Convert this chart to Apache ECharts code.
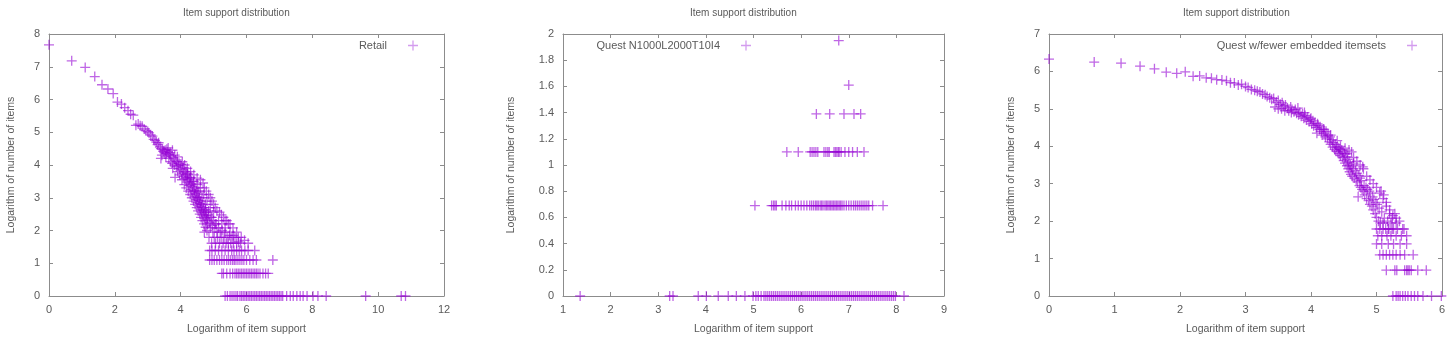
<!DOCTYPE html>
<html><head><meta charset="utf-8">
<script src="https://cdn.jsdelivr.net/npm/echarts@6/dist/echarts.min.js"></script>
<style>html,body{margin:0;padding:0;background:#fff}#c{width:1449px;height:342px}</style>
</head><body><div id="c"></div>
<script>
// ---- Data: [ln(item support), ln(number of items)] ----
const chartTitle = 'Item support distribution';
const xAxisName = 'Logarithm of item support';
const yAxisName = 'Logarithm of number of items';
const seriesNames = ['Retail', 'Quest N1000L2000T10I4', 'Quest w/fewer embedded itemsets'];

const retail = [
 [0,7.67],[0.69,7.18],[1.10,6.98],[1.39,6.70],[1.61,6.45],[1.79,6.32],[1.95,6.18],[2.08,5.92],[2.20,5.86],[2.30,5.75],
 [2.40,5.66],[2.48,5.55],[2.56,5.52],[2.64,5.21],[2.71,5.25],[2.77,5.20],[2.83,5.18],[2.89,5.10],[2.94,5.05],[3.00,5.02],
 [3.04,4.98],[3.09,4.92],[3.14,4.88],[3.18,4.78],[3.22,4.75],[3.26,4.70],[3.30,4.62],[3.33,4.68],[3.37,4.55],[3.40,4.50],
 [3.43,4.30],[3.47,4.42],[3.50,4.38],[3.53,4.45],[3.56,4.35],[3.58,4.48],[3.61,4.40],[3.64,4.20],[3.66,4.32],[3.69,4.10],
 [3.71,4.28],[3.74,4.05],[3.76,3.90],[3.78,4.22],[3.81,4.00],[3.83,3.62],[3.85,4.15],[3.87,3.95],[3.89,4.10],[3.91,3.80],
 [3.93,3.98],[3.95,4.05],[3.97,3.70],[3.99,3.88],[4.01,4.02],[4.03,3.75],[4.04,3.55],[4.06,3.85],[4.08,3.65],[4.09,3.92],
 [4.11,3.40],[4.13,3.70],[4.14,3.58],[4.16,3.80],[4.17,3.30],[4.19,3.62],[4.20,3.48],[4.22,3.72],[4.23,3.20],[4.25,3.55],
 [4.26,3.38],[4.28,3.60],[4.29,3.10],[4.30,3.45],[4.32,3.25],[4.33,3.50],[4.34,3.00],[4.36,3.35],[4.37,3.18],[4.38,3.42],
 [4.39,2.90],[4.41,3.22],[4.42,3.05],[4.43,3.30],[4.44,2.80],[4.45,3.12],[4.47,2.95],[4.48,3.20],[4.49,2.70],[4.50,3.02],
 [4.51,2.85],[4.52,3.15],[4.53,2.60],[4.55,2.92],[4.56,2.75],[4.57,3.00],[4.58,2.50],[4.59,2.83],[4.60,2.65],[4.61,2.90],
 [4.62,2.40],[4.63,2.72],[4.64,2.56],[4.65,2.80],[4.66,2.30],[4.68,2.62],[4.69,2.48],[4.70,2.70],[4.71,2.20],[4.72,1.95],
 [4.73,2.55],[4.74,2.38],[4.75,2.64],[4.76,2.10],[4.77,2.45],[4.78,2.30],[4.79,2.56],[4.80,2.00],[4.81,2.35],[4.82,2.20],
 [4.84,2.48],[4.86,1.79],[4.88,2.25],[4.90,2.08],[4.92,2.40],[4.94,1.61],[4.96,2.15],[4.98,1.95],[5.00,2.30],[5.02,1.79],
 [5.04,2.08],[5.06,1.61],[5.08,2.20],[5.10,1.95],[5.12,1.79],[5.15,2.08],[5.18,1.61],[5.20,1.95],[5.24,2.48],[5.23,1.79],
 [5.26,2.00],[5.29,1.61],[5.32,1.79],[5.35,2.30],[5.35,1.95],[5.38,1.61],[5.41,1.79],[5.45,2.20],[5.45,1.61],[5.48,1.85],
 [5.52,1.61],[5.56,1.79],[5.59,2.08],[5.60,1.61],[5.65,1.79],[5.70,1.95],[5.70,1.61],[5.76,1.65],[5.82,1.61],[5.84,1.79],
 [5.94,1.70],[6.05,1.61],
 [4.05,4.10],[4.12,4.00],[4.20,3.90],[4.30,3.80],[4.40,3.70],[4.50,3.60],[4.60,3.55],[4.68,3.45],[4.72,3.30],[4.78,3.20],
 [4.85,3.10],[4.90,3.00],[4.95,2.90],[5.00,2.80],[5.05,2.70],[5.10,2.60],[5.18,2.56],[5.30,2.40],[5.40,2.30],[5.50,2.20],
 [5.00,2.56],[4.90,2.70],[4.80,2.90],[4.70,3.10],[4.60,3.30],[4.50,3.40],[4.40,3.50],[4.30,3.62],[4.20,3.75],[4.55,3.20],
 [4.65,3.00],[4.75,2.80],[4.85,2.60],[4.95,2.40],[5.05,2.20],[5.15,2.30],[5.25,2.20],[5.35,2.08],[5.50,1.95],[5.60,1.85],
 [5.75,1.79],[3.40,4.20],[3.45,4.48],[3.55,4.25],[3.62,4.52],[3.68,4.38],[3.75,4.45],[3.82,4.30],[3.90,4.25],
 [4.88,1.39],[4.95,1.39],[5.05,1.39],[5.15,1.39],[5.25,1.39],[5.35,1.39],[5.45,1.39],[5.55,1.39],[5.62,1.39],[5.70,1.39],
 [5.78,1.39],[5.85,1.39],[5.95,1.39],[6.05,1.39],[6.25,1.39],
 [4.88,1.10],[4.95,1.10],[5.02,1.10],[5.10,1.10],[5.18,1.10],[5.25,1.10],[5.32,1.10],[5.40,1.10],[5.46,1.10],[5.52,1.10],
 [5.58,1.10],[5.63,1.10],[5.68,1.10],[5.74,1.10],[5.80,1.10],[5.86,1.10],[5.92,1.10],[6.00,1.10],[6.10,1.10],[6.20,1.10],
 [6.30,1.10],[6.80,1.10],
 [5.25,0.69],[5.30,0.69],[5.40,0.69],[5.50,0.69],[5.58,0.69],[5.65,0.69],[5.70,0.69],[5.75,0.69],[5.80,0.69],[5.85,0.69],
 [5.90,0.69],[5.95,0.69],[6.00,0.69],[6.05,0.69],[6.10,0.69],[6.15,0.69],[6.20,0.69],[6.25,0.69],[6.30,0.69],[6.35,0.69],
 [6.41,0.69],[6.50,0.69],[6.58,0.69],[6.66,0.69],
 [5.35,0],[5.42,0],[5.50,0],[5.56,0],[5.62,0],[5.68,0],[5.73,0],[5.80,0],[5.85,0],[5.90,0],[5.95,0],[6.00,0],[6.05,0],
 [6.10,0],[6.15,0],[6.20,0],[6.25,0],[6.30,0],[6.35,0],[6.40,0],[6.45,0],[6.50,0],[6.55,0],[6.60,0],[6.65,0],[6.70,0],
 [6.75,0],[6.80,0],[6.85,0],[6.90,0],[6.95,0],[7.00,0],[7.05,0],[7.10,0],[7.22,0],[7.33,0],[7.42,0],[7.53,0],[7.63,0],
 [7.72,0],[7.84,0],[8.02,0],[8.17,0],[8.42,0],[9.62,0],[10.70,0],[10.83,0]
];

const questN1000 = [
 [6.79,1.95],[7.00,1.61],
 [6.32,1.39],[6.60,1.39],[6.90,1.39],[7.11,1.39],[7.25,1.39],
 [5.70,1.10],[5.94,1.10],[6.19,1.10],[6.23,1.10],[6.27,1.10],[6.31,1.10],[6.35,1.10],[6.48,1.10],[6.52,1.10],[6.56,1.10],
 [6.59,1.10],[6.69,1.10],[6.72,1.10],[6.75,1.10],[6.78,1.10],[6.80,1.10],[6.84,1.10],[6.92,1.10],[7.00,1.10],[7.08,1.10],
 [7.18,1.10],[7.32,1.10],
 [5.03,0.69],[5.38,0.69],[5.42,0.69],[5.45,0.69],[5.48,0.69],[5.60,0.69],[5.68,0.69],[5.75,0.69],[5.80,0.69],[5.88,0.69],
 [5.94,0.69],[6.00,0.69],[6.06,0.69],[6.12,0.69],[6.18,0.69],[6.22,0.69],[6.26,0.69],[6.30,0.69],[6.33,0.69],[6.36,0.69],
 [6.40,0.69],[6.43,0.69],[6.46,0.69],[6.50,0.69],[6.53,0.69],[6.56,0.69],[6.59,0.69],[6.62,0.69],[6.65,0.69],[6.68,0.69],
 [6.71,0.69],[6.74,0.69],[6.77,0.69],[6.80,0.69],[6.83,0.69],[6.86,0.69],[6.90,0.69],[6.95,0.69],[7.00,0.69],[7.05,0.69],
 [7.10,0.69],[7.14,0.69],[7.18,0.69],[7.22,0.69],[7.26,0.69],[7.30,0.69],[7.34,0.69],[7.38,0.69],[7.42,0.69],[7.50,0.69],
 [7.72,0.69],
 [1.36,0],[3.24,0],[3.31,0],[3.84,0],[4.01,0],[4.26,0],[4.47,0],[4.64,0],[4.82,0],[4.99,0],[5.05,0],[5.10,0],[5.16,0],
 [5.22,0],[5.26,0],[5.30,0],[5.34,0],[5.38,0],[5.42,0],[5.46,0],[5.50,0],[5.54,0],[5.58,0],[5.62,0],[5.66,0],[5.70,0],
 [5.74,0],[5.78,0],[5.82,0],[5.86,0],[5.90,0],[5.94,0],[5.98,0],[6.02,0],[6.06,0],[6.10,0],[6.14,0],[6.18,0],[6.22,0],
 [6.26,0],[6.30,0],[6.34,0],[6.38,0],[6.42,0],[6.46,0],[6.50,0],[6.54,0],[6.58,0],[6.62,0],[6.66,0],[6.70,0],[6.74,0],
 [6.78,0],[6.82,0],[6.86,0],[6.90,0],[6.94,0],[6.98,0],[7.02,0],[7.06,0],[7.10,0],[7.14,0],[7.18,0],[7.22,0],[7.26,0],
 [7.30,0],[7.34,0],[7.38,0],[7.42,0],[7.46,0],[7.50,0],[7.54,0],[7.58,0],[7.62,0],[7.66,0],[7.70,0],[7.74,0],[7.78,0],
 [7.82,0],[7.86,0],[7.90,0],[7.94,0],[7.98,0],[8.16,0]
];

const questFewer = [
 [0,6.33],[0.69,6.25],[1.10,6.22],[1.39,6.14],[1.61,6.07],[1.79,5.98],[1.95,5.95],[2.08,5.99],[2.20,5.87],[2.30,5.88],
 [2.40,5.83],[2.48,5.82],[2.56,5.78],[2.64,5.77],[2.71,5.75],[2.77,5.70],[2.83,5.69],[2.89,5.64],[2.94,5.66],[3.00,5.60],
 [3.04,5.57],[3.09,5.52],[3.14,5.50],[3.18,5.47],[3.22,5.45],[3.26,5.40],[3.30,5.38],[3.33,5.33],[3.37,5.30],[3.40,5.26],
 [3.43,5.28],[3.47,5.18],[3.50,5.22],[3.53,5.12],[3.56,5.16],[3.58,5.08],[3.61,5.10],[3.64,5.02],[3.66,4.95],[3.69,5.05],
 [3.71,4.98],[3.74,4.92],[3.76,4.98],[3.78,4.88],[3.81,4.84],[3.83,4.90],[3.85,4.80],[3.87,4.86],[3.89,4.75],[3.91,4.82],
 [3.93,4.70],[3.95,4.78],[3.97,4.66],[3.99,4.72],[4.01,4.60],[4.03,4.68],[4.04,4.55],[4.06,4.62],[4.08,4.50],[4.09,4.35],
 [4.11,4.56],[4.13,4.45],[4.14,4.52],[4.16,4.40],[4.17,4.30],[4.19,4.46],[4.20,4.35],[4.22,4.25],[4.23,4.40],[4.25,4.20],
 [4.26,4.30],[4.28,4.12],[4.29,4.25],[4.30,4.05],[4.32,4.18],[4.33,3.98],[4.34,4.10],[4.36,3.92],[4.37,4.05],[4.38,3.88],
 [4.39,3.98],[4.41,3.85],[4.42,3.95],[4.43,3.80],[4.44,3.92],[4.45,3.75],[4.47,3.90],[4.48,3.70],[4.49,3.85],[4.50,3.62],
 [4.51,3.80],[4.52,3.55],[4.53,3.72],[4.55,3.48],[4.56,3.65],[4.57,3.40],[4.58,3.58],[4.59,3.32],[4.60,3.50],[4.61,3.25],
 [4.62,3.45],[4.63,3.20],[4.64,3.40],[4.65,3.55],[4.66,3.15],[4.68,3.35],[4.69,3.10],[4.70,3.28],[4.71,3.05],[4.72,2.65],
 [4.73,3.22],[4.74,2.95],[4.75,3.15],[4.76,2.90],[4.77,3.08],[4.78,2.85],[4.79,3.45],[4.80,2.80],[4.81,2.95],[4.82,2.70],
 [4.84,2.90],[4.85,2.60],[4.86,2.85],[4.88,2.55],[4.89,2.80],[4.90,2.45],[4.91,2.75],[4.93,2.40],[4.94,2.65],[4.95,2.30],
 [4.96,2.58],[4.98,2.20],[4.99,2.50],[5.00,2.10],[5.01,2.45],[5.03,2.00],[5.04,2.35],[5.06,1.95],[5.07,2.80],[5.08,2.25],
 [5.10,1.95],[5.11,2.70],[5.12,2.08],[5.14,1.79],[5.15,2.40],[5.17,2.00],[5.19,1.79],[5.20,2.20],[5.22,1.95],[5.24,2.08],
 [5.26,1.79],[5.28,2.20],[5.30,1.95],[5.32,1.79],[5.35,2.00],[5.38,1.61],[5.42,1.79],[5.46,1.61],
 [3.45,5.05],[3.50,5.00],[3.55,5.00],[3.60,4.95],[3.70,4.90],[3.80,5.02],[3.90,4.90],[4.00,4.75],[4.10,4.60],[4.20,4.45],
 [4.30,4.30],[4.40,4.15],[4.45,4.00],[4.52,3.95],[4.58,3.90],[4.62,3.85],[4.55,3.80],[4.65,3.70],[4.70,3.60],[4.75,3.50],
 [4.80,3.40],[4.85,3.20],[4.90,3.10],[4.95,3.00],[5.00,2.90],[5.05,2.75],[5.10,2.60],[5.15,2.50],[5.20,2.30],[5.25,2.15],
 [5.30,2.08],
 [5.00,1.79],[5.05,1.79],[5.10,1.79],[5.18,1.79],[5.24,1.79],[5.40,1.79],
 [5.02,1.61],[5.08,1.61],[5.16,1.61],[5.22,1.61],[5.30,1.61],
 [5.00,1.39],[5.08,1.39],[5.18,1.39],[5.26,1.39],[5.36,1.39],[5.46,1.39],
 [5.05,1.10],[5.10,1.10],[5.15,1.10],[5.20,1.10],[5.25,1.10],[5.30,1.10],[5.36,1.10],[5.43,1.10],[5.56,1.10],
 [5.15,0.69],[5.28,0.69],[5.31,0.69],[5.43,0.69],[5.46,0.69],[5.48,0.69],[5.50,0.69],[5.53,0.69],[5.63,0.69],[5.76,0.69],
 [5.25,0],[5.30,0],[5.33,0],[5.36,0],[5.40,0],[5.44,0],[5.48,0],[5.53,0],[5.58,0],[5.63,0],[5.71,0],[5.84,0],[5.99,0]
];

// axis ranges / tick intervals per panel
const xMin = [0, 1, 0], xMax = [12, 9, 6], xStep = [2, 1, 1];
const yMin = [0, 0, 0], yMax = [8, 2, 7], yStep = [1, 0.2, 1];

// ---- Layout ----
const grids = [
  {left: 49, top: 34, width: 395, height: 262},
  {left: 563, top: 34, width: 381, height: 262},
  {left: 1049, top: 34, width: 393, height: 262}
];
const titleLeft = [183, 690, 1183];
const yNameGap = [32, 46, 32];
const legendRight = [1031, 698, 32];
const datasets = [retail, questN1000, questFewer];

const PLUS = 'path://M4.35,0H5.65V4.35H10V5.65H5.65V10H4.35V5.65H0V4.35H4.35Z';
const PURPLE = '#9400D3';
const TXT = '#5a5a5a';
const FRAME = '#8c8c8c';
const FONT = '"Liberation Sans", Arial, sans-serif';

const xAxes = [], yAxes = [], titles = [], legends = [], series = [];
for (let i = 0; i < 3; i++) {
  const common = {gridIndex: i, type: 'value', splitLine: {show: false},
    axisLine: {show: true, onZero: false, lineStyle: {color: FRAME, width: 1}},
    axisTick: {show: true, inside: true, length: 4, lineStyle: {color: FRAME}}};
  xAxes.push(Object.assign({}, common, {position: 'bottom', min: xMin[i], max: xMax[i], interval: xStep[i],
    name: xAxisName, nameLocation: 'middle', nameGap: 28,
    nameTextStyle: {color: TXT, fontSize: 10.5, fontFamily: FONT},
    axisLabel: {color: TXT, fontSize: 11, fontFamily: FONT, margin: 8}}));
  yAxes.push(Object.assign({}, common, {position: 'left', min: yMin[i], max: yMax[i], interval: yStep[i],
    name: yAxisName, nameLocation: 'middle', nameGap: yNameGap[i],
    nameTextStyle: {color: TXT, fontSize: 10.5, fontFamily: FONT},
    axisLabel: {color: TXT, fontSize: 11, fontFamily: FONT, margin: 9}}));
  titles.push({text: chartTitle, left: titleLeft[i], top: 8, padding: 0,
    textStyle: {color: TXT, fontSize: 10, fontWeight: 'normal', fontFamily: FONT}});
  legends.push({data: [seriesNames[i]], right: legendRight[i], top: 40, padding: 0, orient: 'vertical',
    align: 'right', icon: PLUS, itemWidth: 10, itemHeight: 10, selectedMode: false,
    itemStyle: {color: '#b55ae2'},
    textStyle: {color: TXT, fontSize: 11, fontFamily: FONT, padding: [0, 16, 0, 0]}});
  series.push({type: 'scatter', name: seriesNames[i], xAxisIndex: i, yAxisIndex: i,
    data: datasets[i], symbol: PLUS, symbolSize: 10, clip: false, silent: true, animation: false,
    itemStyle: {color: PURPLE, opacity: 0.6}});
}
// mirror axes (top/right) for the frame and inner ticks
for (let i = 0; i < 3; i++) {
  const common = {gridIndex: i, type: 'value', splitLine: {show: false}, axisLabel: {show: false},
    axisLine: {show: true, onZero: false, lineStyle: {color: FRAME, width: 1}},
    axisTick: {show: true, inside: true, length: 4, lineStyle: {color: FRAME}}};
  xAxes.push(Object.assign({}, common, {position: 'top', min: xMin[i], max: xMax[i], interval: xStep[i]}));
  yAxes.push(Object.assign({}, common, {position: 'right', min: yMin[i], max: yMax[i], interval: yStep[i]}));
}

const chart = echarts.init(document.getElementById('c'), null, {renderer: 'canvas'});
chart.setOption({
  animation: false,
  backgroundColor: '#fff',
  title: titles,
  legend: legends,
  grid: grids,
  xAxis: xAxes,
  yAxis: yAxes,
  series: series
});
</script>
</body></html>
